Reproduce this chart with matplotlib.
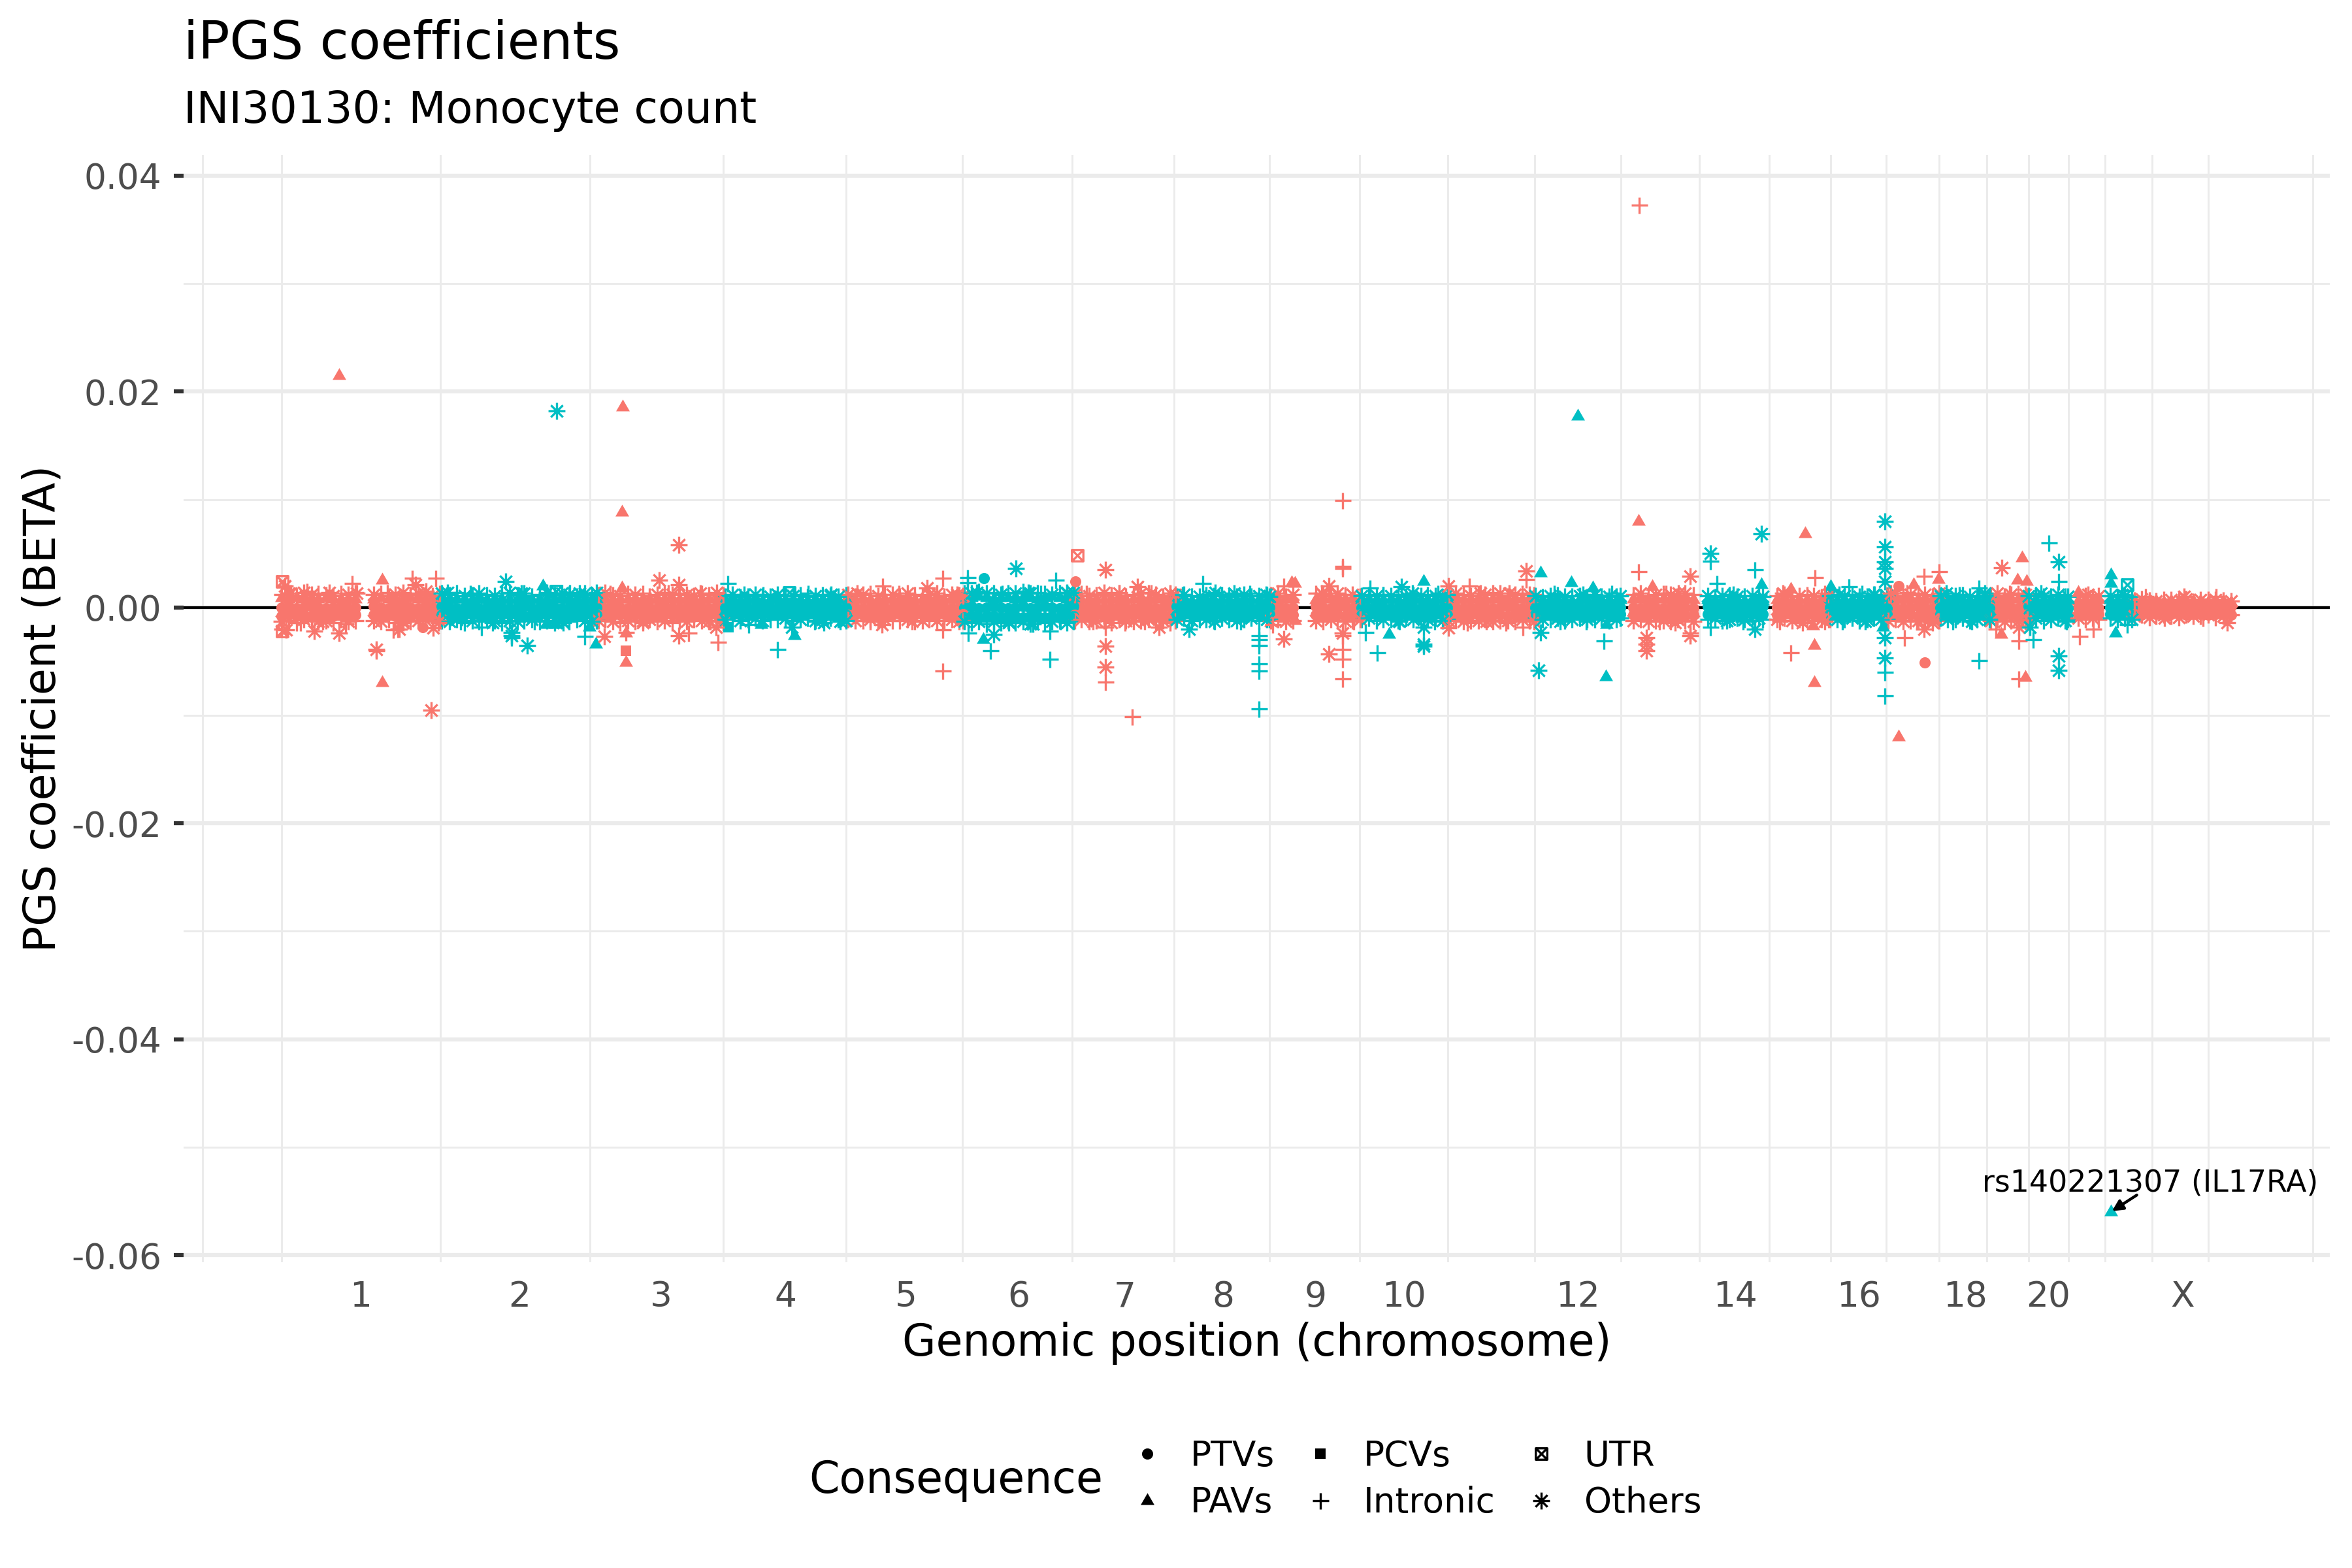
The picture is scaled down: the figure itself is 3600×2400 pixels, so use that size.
import sys
import numpy as np
import matplotlib
matplotlib.use("Agg")
import matplotlib.pyplot as plt
from matplotlib.path import Path
from matplotlib.lines import Line2D
from matplotlib.transforms import blended_transform_factory

plt.rcParams["font.family"] = ["DejaVu Sans"]

# ---------------------------------------------------------------- text
TITLE = "iPGS coefficients"
SUBTITLE = "INI30130: Monocyte count"
X_TITLE = "Genomic position (chromosome)"
Y_TITLE = "PGS coefficient (BETA)"
LEGEND_TITLE = "Consequence"
ANNOT_TEXT = "rs140221307 (IL17RA)"

# ---------------------------------------------------------------- categories
CHROMS = ["1", "2", "3", "4", "5", "6", "7", "8", "9", "10", "11", "12",
          "13", "14", "15", "16", "17", "18", "19", "20", "21", "22", "X"]
CHR_LEN_MB = [249.25, 243.20, 198.02, 191.15, 180.92, 171.12, 159.14, 146.36,
              141.21, 135.53, 135.01, 133.85, 115.17, 107.35, 102.53, 90.35,
              81.20, 78.08, 59.13, 63.03, 48.13, 51.30, 155.27]
X_LABELS_SHOWN = ["1", "2", "3", "4", "5", "6", "7", "8", "9", "10",
                  "12", "14", "16", "18", "20", "X"]
EXTRA_BREAK_MB = 3038.0          # unlabeled trailing axis break of the original
CONSEQUENCES = ["PTVs", "PAVs", "PCVs", "Intronic", "UTR", "Others"]
CODE_TO_CONS = {"T": "PTVs", "A": "PAVs", "C": "PCVs",
                "I": "Intronic", "U": "UTR", "O": "Others"}
BETA_UNIT = 1e-4                 # betas below are written in units of 1e-4

# ---------------------------------------------------------------- dense band (read per chromosome)
CORE_POS = [
    "1 12 24 35 47 58 70 81 93 104 116 144 155 167 178 190 201 213 224 236 247",
    "1 13 24 36 48 59 71 83 94 106 118 129 141 153 164 176 188 199 211 223 234 242",
    "1 12 24 35 47 58 70 81 93 104 116 127 139 150 162 173 185 196",
    "1 12 24 36 47 59 71 82 94 106 117 129 141 152 164 176 189",
    "1 12 24 35 47 58 70 81 93 104 116 127 139 150 162 173 180",
    "1 12 23 35 46 58 69 80 92 103 115 126 137 149 160 170",
    "1 12 24 35 47 58 70 81 93 104 116 127 139 150 158",
    "1 12 24 36 47 59 71 82 94 106 117 129 141 145",
    "1 12 24 35 71 82 94 105 117 128 140",
    "1 12 24 35 47 58 70 81 93 104 116 127 134",
    "1 12 24 35 47 58 70 81 93 104 116 127 134",
    "1 12 24 35 47 58 70 81 93 104 116 127 133",
    "20 31 43 54 66 77 89 100 113",
    "20 31 43 54 66 77 89 100 106",
    "21 32 44 55 67 78 90 101",
    "1 12 23 35 46 58 69 80 89",
    "1 12 24 35 47 58 70 80",
    "1 12 24 35 47 58 70 77",
    "1 11 22 33 44 55 58",
    "1 12 24 35 47 58 62",
    "15 26 37 47",
    "17 28 39 50",
    "3 14 26 37 49 60 72 83 95 106 118 129 141 154",
]
CORE_TOP = [
    "9 8 9 8 7 8 9 8 8 7 8 8 9 8 7 8 9 8 8 9 8",
    "8 7 8 8 7 8 7 8 8 7 8 8 7 8 7 8 8 7 8 7 8 8",
    "8 8 7 8 8 7 8 8 7 8 8 7 8 8 7 8 8 7",
    "7 7 6 7 7 6 7 7 6 7 7 6 7 7 6 7 7",
    "7 7 8 7 7 8 7 7 8 7 7 8 7 7 8 7 7",
    "9 9 10 9 8 9 9 8 9 9 8 9 10 9 8 9",
    "8 7 8 8 7 8 8 7 8 8 7 8 8 7 8",
    "7 7 6 7 7 6 7 7 6 7 7 7 6 7",
    "8 7 8 8 7 8 8 7 8 8 7",
    "7 8 7 7 8 7 7 8 7 7 8 7 7",
    "8 8 7 8 8 7 8 8 7 8 8 7 8",
    "7 7 6 7 7 6 7 7 6 7 7 6 7",
    "8 8 7 8 8 7 8 8 7",
    "7 7 6 7 7 6 7 7 6",
    "7 7 6 7 7 6 7 7",
    "7 6 7 7 6 7 7 6 7",
    "8 8 7 8 8 7 8 8",
    "7 6 7 7 6 7 7 6",
    "8 8 7 8 8 7 8",
    "7 7 6 7 7 6 7",
    "6 7 6 7",
    "7 6 7 7",
    "6 5 6 6 5 6 6 5 6 6 5 6 6 5",
]
CORE_MID = [
    "0 1 -1 0 1 0 -1 0 1 -1 0 1 0 -1 0 1 0 -1 1 0 -1",
    "1 0 -1 0 1 -1 0 1 0 -1 0 1 -1 0 1 0 -1 0 1 0 -1 0",
    "0 -1 1 0 -1 0 1 0 -1 1 0 -1 0 1 0 -1 1 0",
    "0 1 0 -1 0 1 0 -1 0 1 0 -1 0 1 0 -1 0",
    "1 0 -1 0 1 0 -1 0 1 0 -1 0 1 0 -1 0 1",
    "0 1 -1 0 1 0 -1 0 1 -1 0 1 0 -1 0 1",
    "0 -1 1 0 -1 0 1 0 -1 1 0 -1 0 1 0",
    "1 0 -1 0 1 0 -1 0 1 0 -1 0 1 0",
    "0 1 -1 0 1 0 -1 0 1 -1 0",
    "0 -1 1 0 -1 0 1 0 -1 1 0 -1 0",
    "1 0 -1 0 1 0 -1 0 1 0 -1 0 1",
    "0 1 0 -1 0 1 0 -1 0 1 0 -1 0",
    "0 -1 1 0 -1 0 1 0 -1",
    "1 0 -1 0 1 0 -1 0 1",
    "0 1 0 -1 0 1 0 -1",
    "0 -1 1 0 -1 0 1 0 -1",
    "1 0 -1 0 1 0 -1 0",
    "0 1 0 -1 0 1 0 -1",
    "0 -1 1 0 -1 0 1",
    "1 0 -1 0 1 0 -1",
    "0 1 0 -1",
    "0 -1 1 0",
    "0 1 0 -1 0 1 0 -1 0 1 0 -1 0 1",
]
CORE_BOT = [
    "-8 -7 -8 -7 -8 -7 -7 -8 -7 -8 -7 -7 -8 -7 -8 -7 -8 -7 -7 -8 -7",
    "-7 -7 -8 -7 -6 -7 -8 -7 -7 -6 -7 -8 -7 -7 -6 -7 -8 -7 -7 -6 -7 -7",
    "-7 -8 -7 -7 -8 -7 -6 -7 -8 -7 -7 -8 -7 -7 -8 -7 -7 -8",
    "-6 -7 -6 -6 -7 -6 -6 -7 -6 -6 -7 -6 -6 -7 -6 -6 -7",
    "-7 -6 -7 -7 -6 -7 -7 -6 -7 -7 -6 -7 -7 -6 -7 -7 -6",
    "-9 -8 -9 -8 -8 -9 -8 -8 -9 -8 -8 -9 -8 -9 -8 -8",
    "-7 -8 -7 -7 -8 -7 -7 -8 -7 -7 -8 -7 -7 -8 -7",
    "-7 -6 -7 -7 -6 -7 -7 -6 -7 -7 -6 -7 -7 -6",
    "-7 -7 -8 -7 -7 -8 -7 -7 -8 -7 -7",
    "-7 -6 -7 -7 -6 -7 -7 -6 -7 -7 -6 -7 -7",
    "-7 -7 -8 -7 -7 -8 -7 -7 -8 -7 -7 -8 -7",
    "-6 -7 -6 -6 -7 -6 -6 -7 -6 -6 -7 -6 -6",
    "-7 -8 -7 -7 -8 -7 -7 -8 -7",
    "-6 -7 -6 -6 -7 -6 -6 -7 -6",
    "-7 -6 -7 -7 -6 -7 -7 -6",
    "-6 -7 -6 -6 -7 -6 -6 -7 -6",
    "-7 -8 -7 -7 -8 -7 -7 -8",
    "-6 -6 -7 -6 -6 -7 -6 -6",
    "-7 -8 -7 -7 -8 -7 -7",
    "-7 -6 -7 -7 -6 -7 -7",
    "-6 -7 -6 -6",
    "-6 -7 -6 -7",
    "-6 -7 -6 -6 -7 -6 -6 -7 -6 -6 -7 -6 -6 -7",
]
CORE_ROW_CODES = ["A", "T", "T"]   # consequence codes of top / middle / bottom band rows

# fuzzy upper / lower edge of the band (same columns as CORE_POS)
EDGE_UP = [
    "12 13 11 14 12 13 12 11 13 12 14 12 13 11 12 14 12 13 12 11 13",
    "13 12 14 11 12 13 12 11 13 14 12 13 11 12 14 12 13 12 11 13 12 14",
    "12 14 12 11 13 12 13 11 12 14 12 13 12 11 13 12 14 12",
    "11 12 10 11 12 11 10 12 11 11 12 10 11 12 11 10 12",
    "12 11 12 13 11 12 12 11 13 12 11 12 13 11 12 12 11",
    "14 13 15 13 14 12 14 13 15 13 14 13 12 14 13 14",
    "12 13 11 12 14 12 13 11 12 13 14 12 11 13 12",
    "11 12 11 10 12 11 12 10 11 12 11 11 12 10",
    "12 13 11 12 13 12 11 13 12 12 11",
    "11 12 11 12 11 12 10 12 11 12 11 10 12",
    "12 13 12 11 13 12 12 13 11 12 13 12 12",
    "11 10 11 12 10 11 11 10 12 11 10 11 11",
    "12 13 11 12 13 12 11 13 12",
    "11 10 11 12 10 11 11 12 10",
    "11 12 10 11 12 11 10 12",
    "11 10 11 12 10 11 12 10 11",
    "12 13 11 12 13 12 11 13",
    "11 10 11 12 10 11 11 10",
    "12 13 11 12 13 12 11",
    "11 12 10 11 12 11 10",
    "10 11 10 11",
    "11 10 11 10",
    "7 8 7 6 8 7 7 8 6 7 8 7 7 6",
]
EDGE_DN = [
    "-13 -12 -14 -11 -12 -13 -12 -14 -11 -13 -12 -12 -13 -11 -14 -12 -13 -12 -11 -13 -12",
    "-12 -13 -11 -14 -12 -13 -11 -12 -14 -12 -13 -12 -11 -13 -12 -14 -12 -13 -11 -12 -13 -12",
    "-12 -11 -13 -14 -12 -13 -12 -11 -13 -12 -14 -12 -13 -11 -12 -13 -12 -14",
    "-11 -10 -12 -11 -10 -12 -11 -11 -10 -12 -11 -10 -12 -11 -10 -11 -12",
    "-11 -12 -12 -11 -13 -11 -12 -12 -11 -13 -12 -11 -12 -12 -11 -13 -12",
    "-13 -14 -13 -15 -13 -14 -12 -14 -13 -15 -13 -14 -13 -12 -14 -13",
    "-12 -11 -13 -12 -12 -14 -11 -12 -13 -12 -11 -13 -12 -14 -12",
    "-11 -10 -12 -11 -11 -12 -10 -11 -12 -11 -10 -12 -11 -11",
    "-12 -11 -13 -12 -12 -13 -11 -12 -13 -12 -11",
    "-11 -10 -12 -11 -11 -12 -10 -11 -12 -11 -10 -12 -11",
    "-12 -11 -13 -12 -12 -11 -13 -12 -12 -13 -11 -12 -13",
    "-10 -11 -11 -10 -12 -11 -10 -11 -11 -10 -12 -11 -10",
    "-12 -11 -13 -12 -12 -13 -11 -12 -13",
    "-11 -10 -12 -11 -10 -11 -12 -10 -11",
    "-11 -10 -12 -11 -10 -12 -11 -11",
    "-10 -11 -11 -10 -12 -11 -10 -11 -11",
    "-12 -11 -13 -12 -12 -13 -11 -12",
    "-10 -11 -11 -10 -12 -11 -10 -11",
    "-12 -11 -13 -12 -12 -13 -11",
    "-11 -10 -12 -11 -10 -12 -11",
    "-10 -11 -10 -11",
    "-10 -11 -10 -11",
    "-8 -7 -9 -8 -7 -8 -9 -7 -8 -8 -7 -9 -8 -7",
]
EDGE_UP_CODES = [
    "IOIOO IIOIO IOIIO OIOIO I", "OIIOI OIOIO IOIIO IOOIO IO", "IOIOI OIIOI OIOOI IOI",
    "IOIIO IOOIO IIOIO OI", "OIOIO IOIOI IOOIO IO", "IOIOI OIOIO IIOIO O",
    "OIOIO IOIIO IOIOO", "IOIOI OIOIO IOIO", "IOIOI OIOIO I", "OIOIO IOIOI OIO",
    "IOIOI OIOIO IOI", "OIOIO IOIOI OIO", "IOIOI OIOI", "OIOIO IOIO", "IOIOI OIO",
    "OIOIO IOIO", "IOIOI OIO", "OIOIO IOI", "IOIOI OI", "OIOIO IO", "IOIO", "OIOI",
    "IOIOI OIOIO IOIO",
]
EDGE_DN_CODES = [
    "OIIOI OOIIO IOOII OIOII O", "IOOIO IIOIO OIOIO IOIIO OI", "OIOIO IOOIO IIOIO OIO",
    "OIOIO OIIOI OIOOI IO", "IOIOI OIIOI OIOIO OI", "OIOIO IOIOO IIOIO I",
    "IOIOI OIOOI OIOII", "OIOIO IOIOI OIOI", "OIOIO IOIOI O", "IOIOI OIOIO IOI",
    "OIOIO IOIOI OIO", "IOIOI OIOIO IOI", "OIOIO IOIO", "IOIOI OIOI", "OIOIO IOI",
    "IOIOI OIOI", "OIOIO IOI", "IOIOI OIO", "OIOIO IO", "IOIOI OI", "OIOI", "IOIO",
    "OIOIO IOIOI OIOI",
]

# ---------------------------------------------------------------- individual variants: "pos_Mb:beta(1e-4):code"
SPIKES = [
    "90:215:A 1:-20:I 2:24:U 2:-22:U 6:20:O 8:-21:O 52:-22:O 90:-24:O 110:22:I 157:25:A 204:27:I "
    "209:21:O 241:27:I 148:-39:O 148:-40:I 157:-70:A 234:-95:O 175:-21:I 182:-20:I 184:-20:O "
    "220:-18:T 237:-19:O 15:13:O 30:-14:I 40:15:I 65:-13:O 75:14:O 100:-15:I 118:13:O 165:14:I "
    "190:-14:O 225:15:O 245:-14:I",
    "179:182:O 100:24:O 158:20:A 178:15:U 109:-28:I 109:-26:O 109:-23:O 134:-35:O 63:-18:I "
    "163:-16:A 177:-16:A 223:-27:I 240:-34:A 230:-18:A 10:14:O 30:-13:I 45:13:I 80:-14:O "
    "125:13:O 145:-13:I 200:14:I 215:13:O 190:-14:O",
    "39:186:A 38:88:A 126:58:O 96:25:O 126:21:O 38:18:A 10:-27:O 44:-24:A 44:-23:I 44:-40:C "
    "44:-51:A 126:-26:O 142:-24:I 187:-32:I 184:-18:O 20:13:I 70:-14:O 110:14:I 160:13:O 175:-13:I",
    "5:22:I 100:14:U 6:-18:C 37:-16:I 56:-16:A 108:-26:A 104:-18:O 82:-39:I 154:-14:O 180:-13:O "
    "30:12:O 60:12:I 130:13:I 165:12:O 140:-13:I",
    "54:20:I 148:27:I 124:18:O 148:-21:I 148:-59:I 53:-16:O 15:13:O 35:-13:I 80:13:I 100:-13:O 170:12:O",
    "6:28:I 6:23:I 31:27:T 81:36:O 143:25:I 7:-24:I 30:-30:A 46:-25:O 41:-40:I 107:-15:O "
    "134:-22:I 134:-48:I 20:14:O 60:13:I 100:14:O 120:13:I 160:14:O 70:-14:O 150:-13:I",
    "2:24:T 5:48:U 49:35:O 99:19:O 49:-18:I 49:-36:O 49:-55:O 49:-69:I 91:-101:I 132:-18:O "
    "20:13:I 70:14:I 120:13:O 150:13:I 30:-13:O 80:-14:I 110:-13:O",
    "41:22:I 61:14:O 20:-20:O 129:-26:I 129:-30:I 129:-35:I 129:-52:I 129:-59:I 129:-94:I "
    "10:12:I 90:13:O 115:13:I 60:-13:O 100:-13:I 140:12:O",
    "113:99:I 21:20:I 33:23:A 21:-29:O 4:-16:I 113:38:I 113:36:I 113:-24:O 113:-26:I 113:-39:I "
    "113:-48:I 113:-66:I 91:-43:O 91:20:O 38:22:A 38:-12:A 80:13:O 130:-13:I",
    "14:18:I 63:19:O 98:24:A 7:-23:I 25:-42:I 44:-25:A 98:-34:O 98:-36:O 98:-18:O 35:12:I "
    "80:13:O 120:13:I 60:-13:O 115:-13:I",
    "1:20:O 122:34:O 122:26:I 33:20:I 1:-19:O 117:-18:I 50:13:O 70:14:I 95:13:O 30:-14:I "
    "60:-13:O 90:-14:I",
    "67:177:A 9:32:A 57:23:A 90:18:A 9:-23:O 6:-58:O 108:-31:I 111:-64:A 112:-16:A 30:13:I "
    "75:12:O 120:13:I 40:-13:O 80:-13:I",
    "29:373:I 28:80:A 28:33:I 40:-28:O 40:-34:O 40:-40:O 108:29:O 108:-26:O 108:-24:I 49:19:A "
    "70:13:I 90:13:O 60:-13:I 85:-14:O",
    "24:50:O 24:43:I 35:22:I 104:68:O 93:35:I 104:21:A 24:-18:I 93:-20:O 60:12:O 75:-13:I 50:-12:O",
    "64:68:A 80:28:I 42:17:A 42:-42:I 79:-35:A 79:-70:A 77:-17:A 30:13:O 95:13:I 25:-13:I "
    "60:-14:O 95:-13:O",
    "2:19:A 30:19:I 86:80:O 86:56:O 86:42:O 86:36:O 86:24:O 86:-28:O 86:-47:O 86:-60:I 86:-82:I "
    "83:-18:A 15:12:O 50:13:I 70:12:O 20:-13:I 55:-13:O",
    "17:20:T 40:21:A 57:29:I 80:33:I 79:26:A 26:-28:I 57:-20:O 58:-51:T 17:-120:A 5:13:O "
    "30:14:I 70:-14:O 45:-13:I",
    "61:18:I 61:-49:I 10:13:O 30:12:I 50:-13:O 20:-13:I 70:13:O",
    "18:37:O 50:46:A 43:25:A 57:24:A 17:-25:A 9:-20:I 45:-31:I 45:-18:O 45:-66:I 55:-65:A 30:13:I",
    "32:60:I 48:42:O 48:24:I 8:-30:I 3:-18:O 48:-45:O 48:-58:O 20:13:O 60:-13:I",
    "15:14:A 17:-27:I 38:-20:I 30:12:O",
    "17.6:-560:A 18:30:A 18:22:A 43:21:U 25:-24:A 43:-16:I 35:12:O",
    "147:-14:O 20:10:I 50:-10:O 80:10:O 110:-10:I 130:10:I",
]
ANNOT_CHR = "22"
ANNOT_POS_MB = 17.6
ANNOT_BETA = -560

# ---------------------------------------------------------------- styles
COLORS = ["#F8766D", "#00BFC4"]
GRID_COL = "#EBEBEB"
AXIS_TEXT_COL = "#4D4D4D"

TRI = Path([(-1, -0.57735), (1, -0.57735), (0, 1.1547), (-1, -0.57735)],
           [Path.MOVETO, Path.LINETO, Path.LINETO, Path.CLOSEPOLY])
_d = 0.7071
AST = Path([(0, -1), (0, 1), (-1, 0), (1, 0), (-_d, -_d), (_d, _d), (-_d, _d), (_d, -_d)],
           [Path.MOVETO, Path.LINETO] * 4)
SQX = Path([(-1, -1), (1, -1), (1, 1), (-1, 1), (-1, -1), (-1, -1), (1, 1), (-1, 1), (1, -1)],
           [Path.MOVETO, Path.LINETO, Path.LINETO, Path.LINETO, Path.CLOSEPOLY,
            Path.MOVETO, Path.LINETO, Path.MOVETO, Path.LINETO])
MSTYLE = {  # marker, size(pt), filled
    "PTVs": ("o", 4.1, True),
    "PAVs": (TRI, 5.8, True),
    "PCVs": ("s", 3.85, True),
    "Intronic": ("+", 6.0, False),
    "UTR": (SQX, 4.2, False),
    "Others": (AST, 6.2, False),
}
LINE_W = 0.8

# ---------------------------------------------------------------- assemble data
offsets = np.concatenate([[0.0], np.cumsum(CHR_LEN_MB)[:-1]])


def _ints(s):
    return [int(t) for t in s.split()]


def parse_rows(rows, codes_per_row):
    c, p, b, k = [], [], [], []
    for i in range(len(CHROMS)):
        pos = [float(t) for t in CORE_POS[i].split()]
        vals = _ints(rows[i])
        codes = codes_per_row[i].replace(" ", "")
        if len(codes) == 1:
            codes = codes * len(pos)
        if not (len(vals) == len(pos) == len(codes)):
            print("length mismatch", CHROMS[i], len(vals), len(pos), len(codes), file=sys.stderr)
        for pp, vv, cc in zip(pos, vals, codes):
            c.append(i); p.append(pp); b.append(vv); k.append(CODE_TO_CONS[cc])
    return np.array(c), np.array(p), np.array(b, float), np.array(k)


def parse_spikes():
    c, p, b, k = [], [], [], []
    for i in range(len(CHROMS)):
        for tok in SPIKES[i].split():
            pp, vv, code = tok.split(":")
            c.append(i); p.append(float(pp)); b.append(float(vv)); k.append(CODE_TO_CONS[code])
    return np.array(c), np.array(p), np.array(b, float), np.array(k)


n_chr = len(CHROMS)
groups = []
for rows, code in zip((CORE_TOP, CORE_MID, CORE_BOT), CORE_ROW_CODES):
    groups.append(parse_rows(rows, [code] * n_chr))
groups.append(parse_rows(EDGE_UP, EDGE_UP_CODES))
groups.append(parse_rows(EDGE_DN, EDGE_DN_CODES))
groups.append(parse_spikes())

all_chr = np.concatenate([g[0] for g in groups])
all_pos = np.concatenate([g[1] for g in groups])
all_beta = np.concatenate([g[2] for g in groups]) * BETA_UNIT
total_len = float(np.sum(CHR_LEN_MB))

centers = []
for i in range(n_chr):
    m = all_chr == i
    centers.append(offsets[i] + (all_pos[m].min() + all_pos[m].max()) / 2.0)
centers = np.array(centers)

xlim = (-0.05 * total_len, 1.05 * total_len)
ymin, ymax = all_beta.min(), all_beta.max()
yr = ymax - ymin
ylim = (ymin - 0.05 * yr, ymax + 0.05 * yr)

# minor x grid (ggplot style: midpoints between chromosome breaks)
breaks = list(centers) + [EXTRA_BREAK_MB]
step = breaks[1] - breaks[0]
ext = [breaks[0] - step] + breaks + [breaks[-1] + step]
minor_x = [ext[0]] + [(a + b) / 2 for a, b in zip(ext[:-1], ext[1:])]
minor_x = [v for v in minor_x if xlim[0] <= v <= xlim[1]]

# ---------------------------------------------------------------- figure
W, H = 3600, 2400
fig = plt.figure(figsize=(12, 8), dpi=300)
fig.patch.set_facecolor("white")
ax = fig.add_axes([281 / W, 1 - 1932 / H, (3566 - 281) / W, (1932 - 236.5) / H])
for s in ax.spines.values():
    s.set_visible(False)
ax.set_xlim(*xlim)
ax.set_ylim(*ylim)

Y_MAJOR = [-0.06, -0.04, -0.02, 0.0, 0.02, 0.04]
Y_MAJOR_LAB = ["-0.06", "-0.04", "-0.02", "0.00", "0.02", "0.04"]
Y_MINOR = [-0.05, -0.03, -0.01, 0.01, 0.03]
for yv in Y_MINOR:
    ax.axhline(yv, color=GRID_COL, lw=0.7, zorder=0)
for yv in Y_MAJOR:
    ax.axhline(yv, color=GRID_COL, lw=1.5, zorder=0)
for xv in minor_x:
    ax.axvline(xv, color=GRID_COL, lw=0.7, zorder=0)
ax.axhline(0, color="black", lw=1.0, zorder=1)


def draw(chr_idx, pos, beta, cons):
    x = offsets[chr_idx] + pos
    y = beta * BETA_UNIT
    for cname in CONSEQUENCES:
        mk, ms, filled = MSTYLE[cname]
        for par in (0, 1):
            m = (cons == cname) & (chr_idx % 2 == par)
            if not m.any():
                continue
            col = COLORS[par]
            if filled:
                ax.plot(x[m], y[m], ls="none", marker=mk, ms=ms, mfc=col, mec=col,
                        mew=0, zorder=2)
            else:
                ax.plot(x[m], y[m], ls="none", marker=mk, ms=ms, mfc="none", mec=col,
                        mew=LINE_W, zorder=2)


for g in groups:
    draw(*g)

# annotation
ai = CHROMS.index(ANNOT_CHR)
ax.annotate(ANNOT_TEXT, xy=(offsets[ai] + ANNOT_POS_MB, ANNOT_BETA * BETA_UNIT),
            xytext=(14.5, 7.5), textcoords="offset points", ha="center", va="baseline",
            fontsize=11, color="black", zorder=5,
            arrowprops=dict(arrowstyle="-|>,head_length=0.3,head_width=0.15",
                            color="black", lw=1.05, shrinkA=0, shrinkB=0.5,
                            patchA=None, relpos=(0.46, 0.1)))

# axes ticks
ax.set_xticks([])
ax.tick_params(axis="x", length=0)
ax.set_yticks(Y_MAJOR)
ax.set_yticklabels(Y_MAJOR_LAB)
ax.tick_params(axis="y", length=3.6, width=1.5, color="#333333", pad=4.5,
               labelsize=12.8, labelcolor=AXIS_TEXT_COL)

trans = blended_transform_factory(ax.transData, fig.transFigure)
for lab in X_LABELS_SHOWN:
    ax.text(centers[CHROMS.index(lab)], 1 - 2000 / H, lab, transform=trans,
            ha="center", va="baseline", fontsize=12.8, color=AXIS_TEXT_COL, clip_on=False)

# titles
fig.text(281 / W, 1 - 90 / H, TITLE, fontsize=19.2, ha="left", va="baseline")
fig.text(281 / W, 1 - 188 / H, SUBTITLE, fontsize=16, ha="left", va="baseline")
fig.text(1923.5 / W, 1 - 2075 / H, X_TITLE, fontsize=16, ha="center", va="baseline")
fig.text(85 / W, 1 - 1084 / H, Y_TITLE, fontsize=16, rotation=90, rotation_mode="anchor",
         ha="center", va="baseline")

# legend
handles = []
for cname in CONSEQUENCES:
    mk, ms, filled = MSTYLE[cname]
    if filled:
        h = Line2D([0], [0], ls="none", marker=mk, ms=ms, mfc="black", mec="black", mew=0)
    else:
        h = Line2D([0], [0], ls="none", marker=mk, ms=ms, mfc="none", mec="black", mew=LINE_W)
    handles.append(h)
fig.legend(handles, CONSEQUENCES, ncol=3, loc="upper left",
           bbox_to_anchor=(1729.4 / W, 1 - 2203 / H), frameon=False, fontsize=12.8,
           handlelength=1.0, handletextpad=0.73, columnspacing=0.82, labelspacing=0.36,
           borderpad=0, borderaxespad=0, handleheight=0.7)
fig.text(1238 / W, 1 - 2285 / H, LEGEND_TITLE, fontsize=16, ha="left", va="baseline")

fig.savefig("out.png", dpi=300, facecolor="white")
